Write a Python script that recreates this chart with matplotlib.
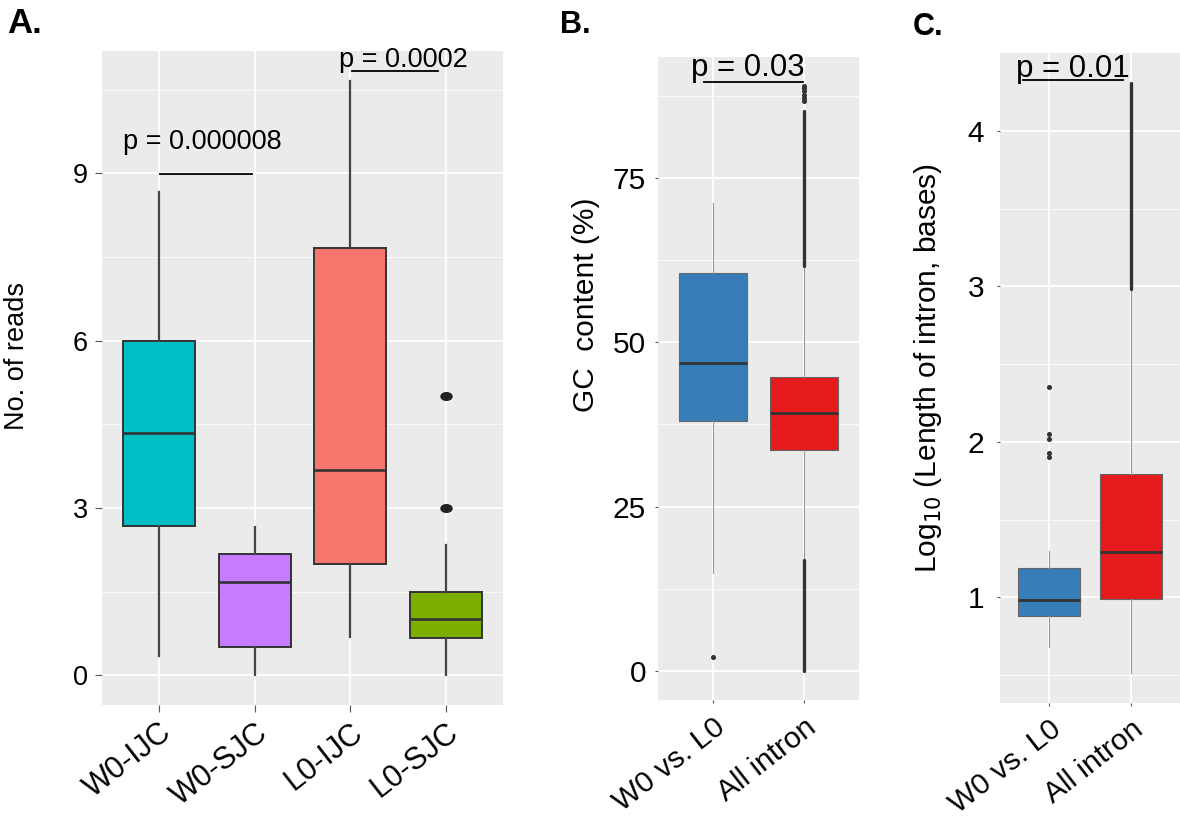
import matplotlib
matplotlib.use('Agg')
import matplotlib.pyplot as plt
from matplotlib.markers import MarkerStyle
from matplotlib.transforms import Affine2D

plt.rcParams['font.family'] = ['Liberation Sans', 'DejaVu Sans']

# ---------------- Panel A data ----------------
A_categories = ['W0-IJC', 'W0-SJC', 'L0-IJC', 'L0-SJC']
A_whislo = [0.35, 0.0, 0.68, 0.0]
A_q1 = [2.67, 0.50, 2.00, 0.67]
A_med = [4.34, 1.67, 3.68, 1.00]
A_q3 = [6.00, 2.17, 7.66, 1.49]
A_whishi = [8.66, 2.66, 10.66, 2.33]
A_fliers = [[], [], [], [3.0, 5.0]]
A_colors = ['#00BFC4', '#C77CFF', '#F8766D', '#7CAE00']
A_yticks = [0, 3, 6, 9]
A_sig_labels = ['p = 0.000008', 'p = 0.0002']
A_sig_x1 = [1.01, 3.02]
A_sig_x2 = [1.97, 3.915]
A_sig_y = [8.98, 10.83]
A_sig_text_x = [1.455, 3.56]
A_sig_text_y = [9.43, 10.90]

# ---------------- Panel B data ----------------
B_categories = ['W0 vs. L0', 'All intron']
B_whislo = [14.9, 16.8]
B_q1 = [38.1, 33.6]
B_med = [46.9, 39.2]
B_q3 = [60.6, 44.8]
B_whishi = [71.2, 61.6]
B_fliers = [[2.1], [86.7, 87.2, 87.7, 88.2, 88.7, 89.0]]
B_dense_lo = [[], [0.0, 61.6]]
B_dense_hi = [[], [16.8, 85.2]]
B_colors = ['#377EB8', '#E41A1C']
B_yticks = [0, 25, 50, 75]
B_sig_labels = ['p = 0.03']
B_sig_x1 = [0.90]
B_sig_x2 = [1.99]
B_sig_y = [89.6]
B_sig_text_x = [1.385]
B_sig_text_y = [90.5]

# ---------------- Panel C data ----------------
C_categories = ['W0 vs. L0', 'All intron']
C_whislo = [0.68, 0.51]
C_q1 = [0.88, 0.99]
C_med = [0.98, 1.29]
C_q3 = [1.19, 1.79]
C_whishi = [1.30, 2.98]
C_fliers = [[1.90, 1.93, 2.02, 2.05, 2.35], []]
C_dense_lo = [[], [2.98]]
C_dense_hi = [[], [4.31]]
C_colors = ['#377EB8', '#E41A1C']
C_yticks = [1, 2, 3, 4]
C_sig_labels = ['p = 0.01']
C_sig_x1 = [0.68]
C_sig_x2 = [1.906]
C_sig_y = [4.325]
C_sig_text_x = [1.29]
C_sig_text_y = [4.346]

W, H = 1180, 822
fig = plt.figure(figsize=(W / 100, H / 100), dpi=100)
ROT = 38


def frac(l, t, r, b):
    return [l / W, 1 - b / H, (r - l) / W, (b - t) / H]


def panel(rect, cats, whislo, q1, med, q3, whishi, fliers, colors, yticks,
          fsize, xfsize, box_ec, box_lw, whis_c, whis_lw, med_lw, flier_style,
          dense_lo=None, dense_hi=None, ylabel=None, ylabel_xy=None,
          ylabel_size=20, sig=None, tick_len=3, tick_pad=5, xpad=5):
    ax = fig.add_axes(rect)
    ax.set_facecolor('#EBEBEB')
    for s in ax.spines.values():
        s.set_visible(False)
    n = len(cats)
    pos = list(range(1, n + 1))
    stats = []
    for i in range(n):
        stats.append(dict(med=med[i], q1=q1[i], q3=q3[i], whislo=whislo[i],
                          whishi=whishi[i], fliers=fliers[i], label=cats[i]))
    bp = ax.bxp(stats, positions=pos, widths=0.75, patch_artist=True,
                showcaps=False, showfliers=True,
                boxprops=dict(edgecolor=box_ec, linewidth=box_lw),
                whiskerprops=dict(color=whis_c, linewidth=whis_lw),
                medianprops=dict(color='#333333', linewidth=med_lw),
                flierprops=flier_style, zorder=3)
    for patch, c in zip(bp['boxes'], colors):
        patch.set_facecolor(c)
    if dense_lo is not None:
        for i in range(n):
            for lo, hi in zip(dense_lo[i], dense_hi[i]):
                ax.vlines(pos[i], lo, hi, color='#333333', linewidth=2.4,
                          zorder=4, capstyle='round')
    # limits (ggplot style 5% expansion of data range)
    allv = whislo + whishi + [v for f in fliers for v in f]
    if dense_hi is not None:
        allv += [v for f in dense_hi for v in f] + [v for f in dense_lo for v in f]
    lo, hi = min(allv), max(allv)
    pad = 0.05 * (hi - lo)
    ylo, yhi = lo - pad, hi + pad
    ax.set_yticks(yticks)
    step = yticks[1] - yticks[0]
    minors = [yticks[0] - step / 2] + [t + step / 2 for t in yticks]
    minors = [m for m in minors if ylo < m < yhi]
    ax.set_yticks(minors, minor=True)
    ax.set_xticks(pos)
    ax.set_xticklabels(cats, rotation=ROT, ha='right', va='top',
                       rotation_mode='anchor', fontsize=xfsize)
    ax.set_ylim(ylo, yhi)
    ax.set_xlim(0.4, n + 0.6)
    ax.tick_params(axis='y', labelsize=fsize, length=tick_len, color='#555555',
                   pad=tick_pad, width=0.8)
    ax.tick_params(axis='x', length=tick_len, color='#555555', pad=xpad, width=0.8)
    ax.tick_params(which='minor', length=0)
    ax.grid(True, which='major', color='white', linewidth=1.3, zorder=0)
    ax.grid(True, which='minor', axis='y', color='white', linewidth=0.6, zorder=0)
    ax.set_axisbelow(True)
    if sig is not None:
        labels, x1, x2, yl, tx, ty, sfs = sig
        for i in range(len(labels)):
            ax.plot([x1[i], x2[i]], [yl[i], yl[i]], color='black', lw=1.3,
                    zorder=5, clip_on=False)
            ax.text(tx[i], ty[i], labels[i], ha='center', va='baseline',
                    fontsize=sfs, zorder=6)
    if ylabel is not None:
        fig.text(ylabel_xy[0] / W, 1 - ylabel_xy[1] / H, ylabel, rotation=90,
                 ha='center', va='center', fontsize=ylabel_size)
    return ax


flierA = dict(marker=MarkerStyle('o', transform=Affine2D().scale(1.45, 1.0)),
              markersize=5.5, markerfacecolor='#222222', markeredgecolor='#222222')
flierBC = dict(marker='o', markersize=2.6, markerfacecolor='#333333',
               markeredgecolor='#333333')

panel(frac(102, 51, 503, 705), A_categories, A_whislo, A_q1, A_med, A_q3,
      A_whishi, A_fliers, A_colors, A_yticks, 19.5, 22, '#333333', 1.4,
      '#444444', 1.6, 1.9, flierA,
      ylabel='No. of reads', ylabel_xy=(17, 356), ylabel_size=19.5,
      sig=(A_sig_labels, A_sig_x1, A_sig_x2, A_sig_y, A_sig_text_x,
           A_sig_text_y, 19.5), tick_len=5, tick_pad=5, xpad=4)

panel(frac(658, 57, 858.6, 700), B_categories, B_whislo, B_q1, B_med, B_q3,
      B_whishi, B_fliers, B_colors, B_yticks, 21.5, 21.5, '#666666', 0.8,
      '#9A9A9A', 0.8, 2.0, flierBC, dense_lo=B_dense_lo, dense_hi=B_dense_hi,
      ylabel='GC  content (%)', ylabel_xy=(586, 305), ylabel_size=21.5,
      sig=(B_sig_labels, B_sig_x1, B_sig_x2, B_sig_y, B_sig_text_x,
           B_sig_text_y, 22.5), tick_len=2.5, tick_pad=6, xpad=7)

panel(frac(1000, 53, 1180, 703), C_categories, C_whislo, C_q1, C_med, C_q3,
      C_whishi, C_fliers, C_colors, C_yticks, 21.5, 21.5, '#666666', 0.8,
      '#9A9A9A', 0.8, 2.0, flierBC, dense_lo=C_dense_lo, dense_hi=C_dense_hi,
      ylabel='Log$_{10}$ (Length of intron, bases)', ylabel_xy=(928, 368),
      ylabel_size=21.5,
      sig=(C_sig_labels, C_sig_x1, C_sig_x2, C_sig_y, C_sig_text_x,
           C_sig_text_y, 22.5), tick_len=2.5, tick_pad=9, xpad=6)

fig.text(7 / W, 1 - 33 / H, 'A.', fontsize=25, fontweight='bold', ha='left', va='baseline')
fig.text(560 / W, 1 - 33 / H, 'B.', fontsize=22, fontweight='bold', ha='left', va='baseline')
fig.text(913 / W, 1 - 35 / H, 'C.', fontsize=22, fontweight='bold', ha='left', va='baseline')

fig.savefig('out.png', dpi=100)
